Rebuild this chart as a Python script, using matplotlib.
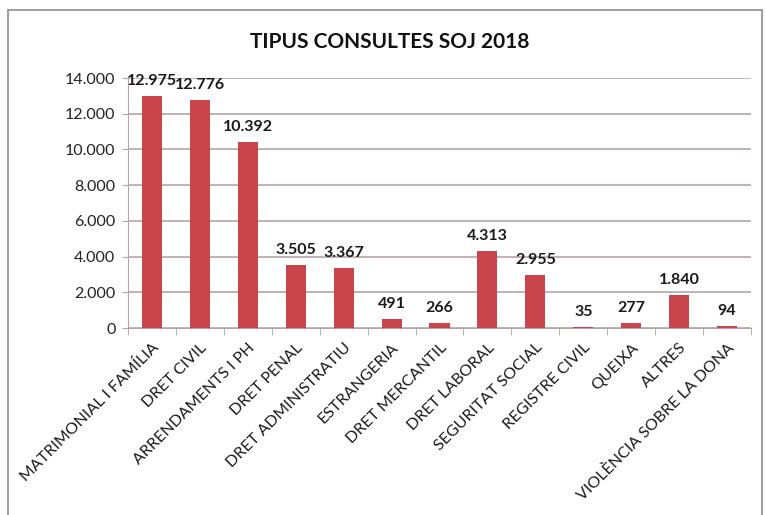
import matplotlib
matplotlib.use("Agg")
import matplotlib.pyplot as plt
from matplotlib.patches import Rectangle

# DADES
CATEGORIES = [
    "MATRIMONIAL I FAMÍLIA", "DRET CIVIL", "ARRENDAMENTS I PH", "DRET PENAL",
    "DRET ADMINISTRATIU", "ESTRANGERIA", "DRET MERCANTIL", "DRET LABORAL",
    "SEGURITAT SOCIAL", "REGISTRE CIVIL", "QUEIXA", "ALTRES",
    "VIOLÈNCIA SOBRE LA DONA",
]
VALUES = [12975, 12776, 10392, 3505, 3367, 491, 266, 4313, 2955, 35, 277, 1840, 94]
Y_TICKS = [0, 2000, 4000, 6000, 8000, 10000, 12000, 14000]
TITLE = "TIPUS CONSULTES SOJ 2018"

BAR_COLOR = "#C8454C"
GRID_COLOR = "#B5A5A5"

plt.rcParams["font.family"] = ["Lato", "DejaVu Sans"]


def fmt(v):
    # separador de milers amb punt
    return f"{v:,}".replace(",", ".")


fig = plt.figure(figsize=(7.66, 5.15), dpi=100)
# marc de la figura (la vora inferior queda fora de la imatge)
fig.patches.append(Rectangle((8 / 766, -10 / 515), 754 / 766, 515 / 515,
                             transform=fig.transFigure, fill=False,
                             edgecolor="#A0A0A0", linewidth=1.5))

ax = fig.add_axes([128 / 766, 1 - 328 / 515, 623 / 766, 250 / 515])
x = list(range(len(CATEGORIES)))
ax.bar(x, VALUES, width=0.42, color=BAR_COLOR, zorder=3)

for xi, v in zip(x, VALUES):
    ax.annotate(fmt(v), (xi, v), xytext=(0, 6), textcoords="offset points",
                ha="center", va="bottom", fontsize=11.5, fontweight="bold",
                color="#1a1a1a")

ax.set_xlim(-0.5, len(CATEGORIES) - 0.5)
ax.set_ylim(0, 14000)
ax.set_yticks(Y_TICKS)
ax.set_yticklabels([fmt(t) for t in Y_TICKS], fontsize=11.5, color="#222222")
ax.yaxis.grid(True, color=GRID_COLOR, linewidth=1.2, zorder=0)
ax.tick_params(axis="y", length=4, color=GRID_COLOR, pad=5)

ax.set_xticks(x)
ax.set_xticklabels(CATEGORIES, rotation=45, ha="right", rotation_mode="anchor",
                   fontsize=11.5, color="#1a1a1a")
ax.tick_params(axis="x", length=0, pad=9)
ax.set_xticks([i - 0.5 for i in range(len(CATEGORIES) + 1)], minor=True)
ax.tick_params(axis="x", which="minor", length=5, color=GRID_COLOR)

for side in ["top", "right"]:
    ax.spines[side].set_visible(False)
ax.spines["left"].set_color(GRID_COLOR)
ax.spines["bottom"].set_color(GRID_COLOR)

fig.text(390 / 766, 1 - 42 / 515, TITLE, ha="center", va="center",
         fontsize=15, fontweight="bold", color="#111111")

fig.savefig("out.png", dpi=100)
